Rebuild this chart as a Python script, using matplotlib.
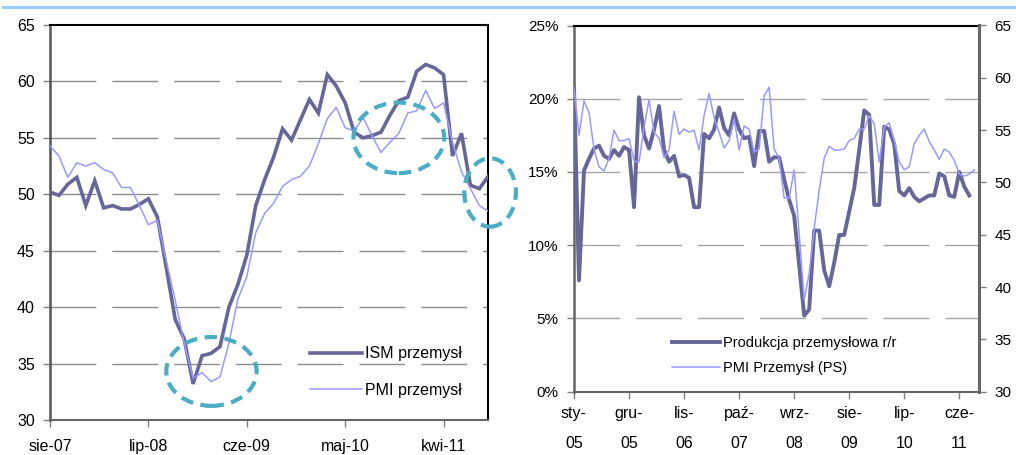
import matplotlib
matplotlib.use('Agg')
import matplotlib.pyplot as plt
from matplotlib.patches import Ellipse
from matplotlib.lines import Line2D

plt.rcParams['font.family'] = ['Liberation Sans', 'DejaVu Sans']

# --- left panel: ISM vs PMI, monthly sie-07 .. wrz-11
ism = [50.2, 49.9, 50.9, 51.5, 49.0, 51.2, 48.8, 49.0, 48.7, 48.7,
       49.1, 49.6, 48.0, 43.5, 38.9, 37.2, 33.2, 35.7, 35.9, 36.5,
       40.0, 42.0, 44.6, 49.0, 51.3, 53.3, 55.8, 54.8, 56.6, 58.4,
       57.2, 60.6, 59.6, 58.1, 55.5, 55.0, 55.2, 55.5, 57.0, 58.3,
       58.6, 60.9, 61.5, 61.2, 60.6, 53.4, 55.4, 50.8, 50.5, 51.6]
pmi_left = [54.3, 53.4, 51.5, 52.8, 52.5, 52.8, 52.2, 51.9, 50.6, 50.6,
            49.0, 47.3, 47.7, 44.1, 40.6, 36.8, 33.7, 34.2, 33.4, 33.8,
            36.8, 40.7, 42.7, 46.6, 48.3, 49.2, 50.7, 51.3, 51.6, 52.5,
            54.5, 56.7, 57.7, 55.9, 55.6, 56.8, 55.2, 53.7, 54.6, 55.4,
            57.2, 57.4, 59.2, 57.6, 58.1, 54.6, 52.0, 50.5, 49.0, 48.5]
left_ticks = ['sie-07', 'lip-08', 'cze-09', 'maj-10', 'kwi-11']

# --- right panel: production y/y (%) and PMI (right axis), monthly sty-05 ..
prod = [20.8, 7.6, 15.1, 15.9, 16.6, 16.8, 16.1, 15.9, 16.5, 16.1,
        16.7, 16.5, 12.6, 20.1, 17.5, 16.6, 17.9, 19.5, 16.5, 15.7,
        16.1, 14.7, 14.8, 14.6, 12.6, 12.6, 17.6, 17.3, 17.9, 19.4,
        18.0, 17.5, 19.0, 17.9, 17.3, 17.4, 15.4, 17.8, 17.8, 15.7,
        16.0, 16.0, 14.5, 13.1, 12.0, 8.65, 5.2, 5.6, 11.0, 11.0,
        8.3, 7.2, 8.8, 10.7, 10.7, 12.3, 13.9, 16.5, 19.2, 18.9,
        12.75, 12.75, 18.1, 17.9, 16.9, 13.7, 13.4, 13.9, 13.3, 13.0,
        13.2, 13.4, 13.4, 14.9, 14.7, 13.4, 13.3, 15.0, 14.0, 13.4]
pmi_right = [59.1, 54.5, 57.8, 56.7, 53.2, 51.5, 51.1, 52.3, 55.0, 54.0,
             54.0, 54.2, 52.05, 51.95, 55.3, 57.9, 54.8, 54.2, 52.4, 53.1,
             56.8, 54.6, 55.1, 54.8, 55.0, 53.1, 56.4, 58.5, 56.2, 54.8,
             53.3, 54.0, 56.1, 53.1, 55.4, 55.1, 52.9, 53.2, 58.3, 59.1,
             53.2, 52.3, 48.5, 48.5, 51.2, 45.1, 38.8, 41.3, 45.6, 49.25,
             52.3, 53.45, 53.1, 53.1, 53.2, 54.0, 54.2, 55.1, 55.1, 56.4,
             55.6, 51.95, 55.3, 55.7, 54.0, 51.95, 51.2, 51.5, 53.7, 54.5,
             55.1, 53.9, 53.1, 52.2, 53.2, 52.9, 52.1, 50.8, 50.6, 50.8,
             51.2]
right_ticks = ['sty-\n05', 'gru-\n05', 'lis-\n06', 'paź-\n07',
               'wrz-\n08', 'sie-\n09', 'lip-\n10', 'cze-\n11']

DARK = '#666699'
LIGHT = '#9999ff'
TEAL = '#4bacc6'
W, H = 1016, 455

fig = plt.figure(figsize=(W / 100, H / 100), dpi=100)
fig.add_artist(Line2D([3 / W, 1], [1 - 6.7 / H] * 2, color='#99ccff', lw=2.2))

# ---------------- left chart
ax1 = fig.add_axes([50 / W, 1 - 420 / H, 438.3 / W, 395 / H])
ax1.set_xlim(0, 49)
ax1.set_ylim(30, 65)
ax1.set_yticks(range(30, 66, 5))
ax1.set_xticks(range(0, 45, 11))
ax1.set_xticklabels(left_ticks)
for y in range(35, 65, 5):
    ax1.axhline(y, color='#8c8c8c', lw=1, dashes=(33, 11.5), zorder=1)

ax1.plot(range(len(ism)), ism, color=DARK, lw=2.6, label='ISM przemysł',
         solid_joinstyle='miter', zorder=3)
ax1.plot(range(len(pmi_left)), pmi_left, color=LIGHT, lw=1.1,
         label='PMI przemysł', zorder=3)

for (cx, cy, ew, eh) in [(18.05, 34.3, 10.1, 6.1), (39.0, 55.0, 10.15, 6.25),
                         (49.2, 50.16, 5.77, 6.06)]:
    ax1.add_patch(Ellipse((cx, cy), ew, eh, fill=False, edgecolor=TEAL, lw=3,
                          linestyle=(0, (3.0, 1.8)), clip_on=False, zorder=5))

for side in ['top', 'right']:
    ax1.spines[side].set_color('black')
    ax1.spines[side].set_linewidth(1.5)
ax1.spines['left'].set_color('#555555')
ax1.spines['left'].set_linewidth(1.8)
ax1.spines['bottom'].set_color('#666666')
ax1.spines['bottom'].set_linewidth(1.5)
ax1.tick_params(axis='y', direction='out', length=5, width=1, color='#808080',
                pad=6, labelsize=11.5)
ax1.tick_params(axis='x', direction='out', length=5, width=1, color='#808080',
                pad=9, labelsize=11.5)

ax1.legend(loc='upper left', bbox_to_anchor=(0.593, 0.187), frameon=False,
           fontsize=11.5, handlelength=3.25, handletextpad=0.2,
           labelspacing=1.35, borderpad=0, borderaxespad=0)

# ---------------- right chart
ax2 = fig.add_axes([574 / W, 1 - 391.7 / H, 405.3 / W, 366.2 / H])
ax2.set_xlim(0, 81)
ax2.set_ylim(0, 25)
ax2.set_yticks(range(0, 26, 5))
ax2.set_yticklabels([f'{v}%' for v in range(0, 26, 5)])
ax2.set_xticks(range(0, 78, 11))
ax2.set_xticklabels(right_ticks)
for lbl in ax2.get_xticklabels():
    lbl.set_linespacing(2.3)
for y in range(5, 25, 5):
    ax2.axhline(y, color='#a6a6a6', lw=1, dashes=(33, 11.5), zorder=1)

l1, = ax2.plot(range(len(prod)), prod, color=DARK, lw=2.8,
               label='Produkcja przemysłowa r/r', zorder=3)

ax3 = ax2.twinx()
ax3.set_ylim(30, 65)
ax3.set_yticks(range(30, 66, 5))
l2, = ax3.plot(range(len(pmi_right)), pmi_right, color=LIGHT, lw=1.1,
               label='PMI Przemysł (PS)', zorder=3)

ax2.spines['right'].set_visible(False)
ax2.spines['top'].set_color('black')
ax2.spines['top'].set_linewidth(1.5)
ax2.spines['left'].set_color('#666666')
ax2.spines['left'].set_linewidth(1.8)
ax2.spines['bottom'].set_color('#666666')
ax2.spines['bottom'].set_linewidth(1.5)
for side in ['left', 'top', 'bottom']:
    ax3.spines[side].set_visible(False)
ax3.spines['right'].set_color('#666666')
ax3.spines['right'].set_linewidth(2.2)

ax2.tick_params(axis='y', direction='out', length=5, width=1, color='#808080',
                pad=6, labelsize=11)
ax2.tick_params(axis='x', direction='out', length=5, width=1, color='#808080',
                pad=5, labelsize=11.5)
ax3.tick_params(axis='y', direction='out', length=5, width=1, color='#808080',
                pad=6, labelsize=11)

ax3.legend([l1, l2], [l1.get_label(), l2.get_label()], loc='upper left',
           bbox_to_anchor=(0.241, 0.152), frameon=False, fontsize=10.5,
           handlelength=3.3, handletextpad=0.2, labelspacing=0.75,
           borderpad=0, borderaxespad=0)

fig.savefig('out.png', dpi=100)
